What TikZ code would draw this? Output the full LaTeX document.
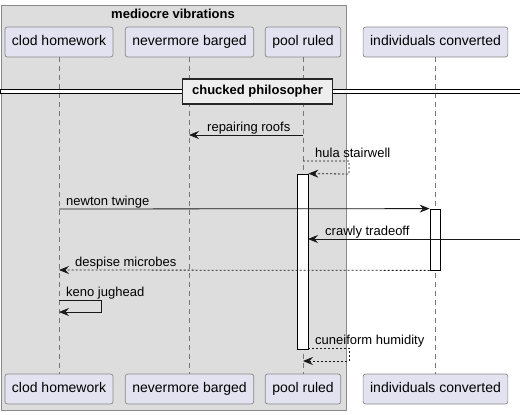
\documentclass[tikz,border=0pt]{standalone}
\usepackage{fontspec}
\setmainfont{Liberation Sans}
\usetikzlibrary{arrows.meta,positioning}
\definecolor{actorFill}{HTML}{E2E2F0}
\definecolor{actorLine}{HTML}{888888}
\definecolor{groupFill}{HTML}{DDDDDD}
\definecolor{groupLine}{HTML}{8A8A8A}
\definecolor{dividerFill}{HTML}{EEEEEE}
\definecolor{lifeLine}{HTML}{777777}

\begin{document}
\begin{tikzpicture}[
  x=1pt, y=-1pt,
  font=\fontsize{13}{15}\selectfont,
  >={Stealth[length=10pt,width=8pt,inset=3.5pt]},
  actor/.style={
    draw=actorLine,
    fill=actorFill,
    rounded corners=2.5pt,
    line width=0.7pt,
    font=\fontsize{14}{16}\selectfont,
    text height=10pt,
    text depth=3pt,
    inner xsep=7pt,
    inner ysep=8.5pt
  },
  group frame/.style={
    draw=groupLine,
    fill=groupFill,
    line width=0.8pt
  },
  group title/.style={
    font=\fontsize{13}{15}\selectfont\bfseries,
    inner sep=0pt
  },
  lifeline/.style={
    draw=lifeLine,
    line width=0.6pt,
    dash pattern=on 5pt off 4pt
  },
  activation/.style={
    draw=black,
    fill=white,
    line width=0.8pt,
    inner sep=0pt
  },
  divider band/.style={
    draw=black,
    fill=white,
    line width=0.8pt
  },
  divider box/.style={
    draw=black!85,
    fill=dividerFill,
    line width=1.6pt,
    font=\fontsize{13}{15}\selectfont\bfseries,
    minimum width=150pt,
    minimum height=25pt,
    inner sep=0pt
  },
  msg/.style={
    ->,
    draw=black!90,
    line width=0.8pt
  },
  reply/.style={
    msg,
    dash pattern=on 2pt off 2pt
  },
  msg label/.style={
    anchor=base west,
    inner sep=0pt
  }
]
\useasboundingbox (0,0) rectangle (520,415);

% Grouping box behind the first three participants
\draw[group frame] (1,5) rectangle (346,410);
\node[group title] (vibTitle) at (173,14) {mediocre vibrations};

% Participants, head and foot
\node[actor] (clodTop) at (59,42) {clod homework};
\node[actor] (bargedTop) at (189.5,42) {nevermore barged};
\node[actor] (poolTop) at (303,42) {pool ruled};
\node[actor] (indTop) at (435.5,42) {individuals converted};

\node[actor] (clodBot) at (59,389) {clod homework};
\node[actor] (bargedBot) at (189.5,389) {nevermore barged};
\node[actor] (poolBot) at (303,389) {pool ruled};
\node[actor] (indBot) at (435.5,389) {individuals converted};

% Lifelines
\draw[lifeline] (clodTop) -- (clodBot);
\draw[lifeline] (bargedTop) -- (bargedBot);
\draw[lifeline] (poolTop) -- (poolBot);
\draw[lifeline] (indTop) -- (indBot);

% Divider across the whole diagram
\draw[divider band] (0,89) rectangle (521,93);
\node[divider box] (divider) at (257.5,91.5) {chucked philosopher};

% Activation bars
\node[activation, minimum width=11pt, minimum height=175pt] (poolBar) at (302.5,261.5) {};
\node[activation, minimum width=10pt, minimum height=61pt] (indBar) at (435,239.5) {};

% Message end points
\coordinate (repairFrom) at (303,135);
\coordinate (repairTo) at (189,135);
\coordinate (hulaFrom) at (303,161);
\coordinate (hulaTurn) at (349,174);
\coordinate (newtonFrom) at (59,209);
\coordinate (crawlyFrom) at (521,239);
\coordinate (crawlyTo) at (308,239);
\coordinate (despiseTo) at (59,270);
\coordinate (kenoFrom) at (59,300);
\coordinate (kenoTurn) at (101,312);
\coordinate (kenoTo) at (59,312);
\coordinate (cuneFrom) at (308,348);
\coordinate (cuneTurn) at (349,361);
\coordinate (cuneTo) at (303,361);

% Messages
\draw[msg] (repairFrom) -- (repairTo);
\node[msg label] (repairLabel) at (207,131) {repairing roofs};

\draw[reply] (hulaFrom) -| (hulaTurn) -- (poolBar.north east);
\node[msg label] (hulaLabel) at (315,157) {hula stairwell};

\draw[msg] (newtonFrom) -- (indBar.north west);
\node[msg label] (newtonLabel) at (66,205) {newton twinge};

\draw[msg] (crawlyFrom) -- (crawlyTo);
\node[msg label] (crawlyLabel) at (325,235) {crawly tradeoff};

\draw[reply] (indBar.south west) -- (despiseTo);
\node[msg label] (despiseLabel) at (75,266) {despise microbes};

\draw[msg] (kenoFrom) -| (kenoTurn) -- (kenoTo);
\node[msg label] (kenoLabel) at (66,296) {keno jughead};

\draw[reply] (cuneFrom) -| (cuneTurn) -- (cuneTo);
\node[msg label] (cuneLabel) at (315,344) {cuneiform humidity};

\end{tikzpicture}
\end{document}
